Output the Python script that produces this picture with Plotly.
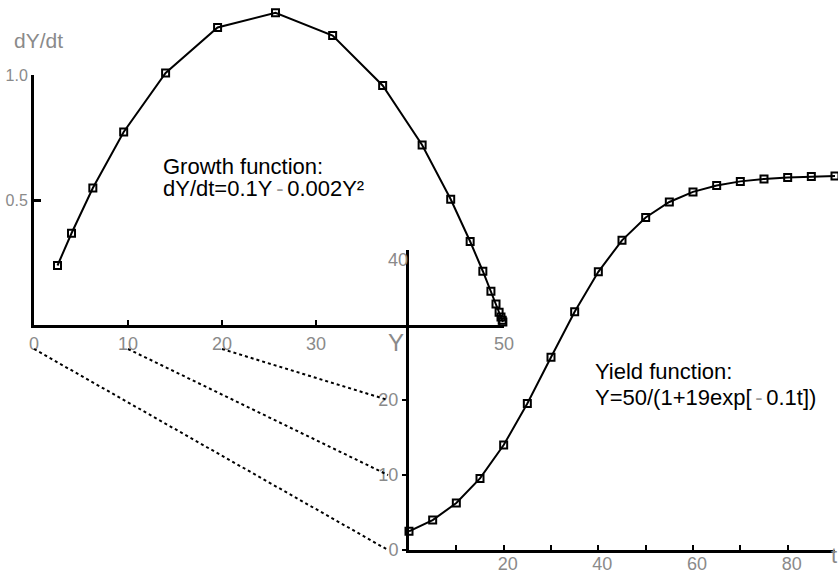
import plotly.graph_objects as go

# ---- data -------------------------------------------------------------
# time points of the yield curve (t) and the yield Y at each of them
t_days = [0, 5, 10, 15, 20, 25, 30, 35, 40, 45, 50, 55, 60, 65, 70, 75, 80, 85, 90]
yield_Y = [2.50, 3.99, 6.26, 9.54, 14.00, 19.53, 25.69, 31.77, 37.09, 41.29,
           44.33, 46.40, 47.75, 48.61, 49.15, 49.48, 49.68, 49.81, 49.88]

# growth rate dY/dt evaluated at the same Y values
growth_Y = [2.50, 3.99, 6.26, 9.54, 14.00, 19.53, 25.69, 31.77, 37.09, 41.29,
            44.33, 46.40, 47.75, 48.61, 49.15, 49.48, 49.68, 49.81, 49.88]
growth_rate = [0.238, 0.367, 0.548, 0.772, 1.008, 1.190, 1.249, 1.158, 0.958, 0.720,
               0.503, 0.334, 0.215, 0.135, 0.084, 0.051, 0.032, 0.019, 0.012]

# tick values / labels
growth_x_ticks = [0, 10, 20, 30, 50]
growth_y_ticks = [0.5, 1.0]
growth_y_labels = ["0.5", "1.0"]
yield_x_ticks = [10, 20, 30, 40, 50, 60, 70, 80, 90]
yield_x_labels = ["", "20", "", "40", "", "60", "", "80", ""]
yield_y_ticks = [0, 10, 20]
yield_y_top_tick = [40]

# Y values linked between the two panels by dotted guide lines
linked_values = [0, 10, 20]

# ---- layout geometry ----------------------------------------------------
W, H = 838, 573


def px_x(p):
    return p / W


def px_y(p):
    return 1 - p / H


G_XDOM = [px_x(34), px_x(504)]
G_XRANGE = [0, 50]
G_YDOM = [px_y(325), px_y(75)]
G_YRANGE = [0, 1.0]
G_YDOM_TRACE = [px_y(325), 1.0]
G_YRANGE_TRACE = [0, 1.3]

Y_XDOM = [px_x(409), px_x(835)]
Y_XRANGE = [0, 90]
Y_YDOM = [px_y(550), px_y(250)]
Y_YRANGE = [0, 40]
Y_YDOM_TRACE = [px_y(550), px_y(150)]
Y_YRANGE_TRACE = [0, 400 / 7.5]


def lin(v, rng, dom):
    return dom[0] + (v - rng[0]) / (rng[1] - rng[0]) * (dom[1] - dom[0])


GRAY = "#8a8a8a"
NARROW = "Liberation Sans Narrow, Liberation Sans, Arial, sans-serif"
SANS = "Liberation Sans, Arial, sans-serif"
tick_font = dict(family=NARROW, size=18, color=GRAY)

fig = go.Figure()

marker_style = dict(symbol="square-open", size=7, color="black", line=dict(width=2))

# empty traces so every frame (axis pair) gets its own subplot
for xa, ya in [("x", "y"), ("x2", "y2"), ("x2", "y5"), ("x3", "y2")]:
    fig.add_trace(go.Scatter(x=[], y=[], xaxis=xa, yaxis=ya, mode="lines",
                             hoverinfo="skip", showlegend=False))

fig.add_trace(go.Scatter(
    x=growth_Y, y=growth_rate, xaxis="x", yaxis="y3",
    mode="lines+markers", line=dict(color="black", width=2),
    marker=marker_style, cliponaxis=False, hoverinfo="skip",
))
fig.add_trace(go.Scatter(
    x=t_days, y=yield_Y, xaxis="x2", yaxis="y4",
    mode="lines+markers", line=dict(color="black", width=2),
    marker=marker_style, cliponaxis=False, hoverinfo="skip",
))

axis_common = dict(showgrid=False, zeroline=False, showline=True,
                   linecolor="black", linewidth=3, tickcolor="black",
                   fixedrange=True, automargin=False)
hidden_axis = dict(visible=False, fixedrange=True, automargin=False)

fig.update_layout(
    width=W, height=H,
    margin=dict(l=0, r=0, t=0, b=0, pad=0),
    paper_bgcolor="white", plot_bgcolor="rgba(0,0,0,0)",
    showlegend=False,
    # growth panel: Y on x, dY/dt on y
    xaxis=dict(domain=G_XDOM, range=G_XRANGE, anchor="y",
               ticks="inside", ticklen=5, tickwidth=2,
               tickvals=growth_x_ticks, tickfont=tick_font, **axis_common),
    yaxis=dict(domain=G_YDOM, range=G_YRANGE, anchor="x",
               ticks="inside", ticklen=7, tickwidth=3,
               tickvals=growth_y_ticks, ticktext=growth_y_labels,
               tickfont=dict(family=NARROW, size=16, color=GRAY), **axis_common),
    yaxis3=dict(domain=G_YDOM_TRACE, range=G_YRANGE_TRACE, anchor="x", **hidden_axis),
    # yield panel: t on x, Y on y
    xaxis2=dict(domain=Y_XDOM, range=Y_XRANGE, anchor="y2",
                ticks="inside", ticklen=5, tickwidth=2,
                tickvals=yield_x_ticks, showticklabels=False, **axis_common),
    xaxis3=dict(overlaying="x2", range=Y_XRANGE, anchor="free", position=px_y(551),
                showline=False, showgrid=False, zeroline=False, ticks="",
                tickvals=yield_x_ticks, ticktext=yield_x_labels,
                tickfont=tick_font, ticklabelshift=4,
                fixedrange=True, automargin=False),
    yaxis2=dict(domain=Y_YDOM, range=Y_YRANGE, anchor="x2",
                ticks="outside", ticklen=4, tickwidth=2,
                tickvals=yield_y_ticks, tickfont=tick_font, **axis_common),
    yaxis5=dict(overlaying="y2", range=Y_YRANGE, anchor="x2", side="left",
                showline=False, showgrid=False, zeroline=False,
                ticks="inside", ticklen=6, tickwidth=3, tickcolor="black",
                tickvals=yield_y_top_tick, tickfont=tick_font, ticklabelshift=10,
                fixedrange=True, automargin=False),
    yaxis4=dict(domain=Y_YDOM_TRACE, range=Y_YRANGE_TRACE, anchor="x2", **hidden_axis),
)

# dotted guides from the Y axis of the growth panel to the Y axis of the yield panel
shapes = []
for v in linked_values:
    x0 = lin(v, G_XRANGE, G_XDOM)
    y0 = G_YDOM[0] - 24 / H
    x1 = Y_XDOM[0] - 21 / W
    y1 = lin(v, Y_YRANGE, Y_YDOM)
    shapes.append(dict(type="line", xref="paper", yref="paper",
                       x0=x0, y0=y0, x1=x1, y1=y1,
                       line=dict(color="black", width=2, dash="dot")))
fig.update_layout(shapes=shapes)

minus = '<span style="color:#9a9a9a">\u2006-\u2006</span>'
ann = [
    dict(text="dY/dt", x=px_x(12), y=px_y(41), xanchor="left", yanchor="middle",
         font=dict(family=SANS, size=21, color=GRAY)),
    dict(text="Y", x=px_x(396), y=px_y(343), xanchor="center", yanchor="middle",
         font=dict(family=NARROW, size=24, color=GRAY)),
    dict(text="t", x=px_x(834), y=px_y(555), xanchor="center", yanchor="middle",
         font=dict(family=NARROW, size=22, color=GRAY)),
    dict(text="Growth function:", x=px_x(161), y=px_y(166), xanchor="left",
         yanchor="middle", font=dict(family=SANS, size=22, color="black")),
    dict(text="dY/dt=0.1Y" + minus + "0.002Y\u00b2", x=px_x(161), y=px_y(189),
         xanchor="left", yanchor="middle", font=dict(family=SANS, size=22, color="black")),
    dict(text="Yield function:", x=px_x(593), y=px_y(371), xanchor="left",
         yanchor="middle", font=dict(family=SANS, size=22, color="black")),
    dict(text="Y=50/(1+19exp[" + minus + "0.1t])", x=px_x(593), y=px_y(397),
         xanchor="left", yanchor="middle", font=dict(family=SANS, size=22, color="black")),
]
for a in ann:
    a.update(xref="paper", yref="paper", showarrow=False)
fig.update_layout(annotations=ann)

fig.write_html("out.html")
